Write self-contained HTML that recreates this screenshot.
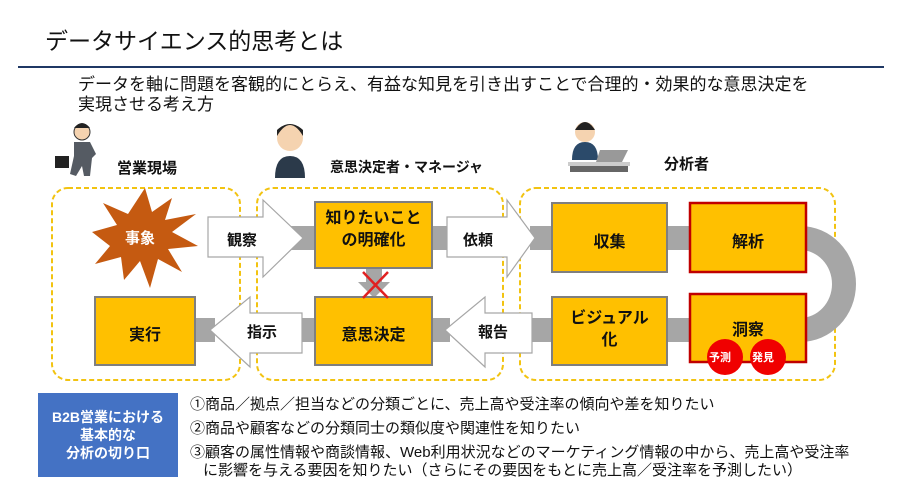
<!DOCTYPE html>
<html><head><meta charset="utf-8"><style>
body{margin:0;width:900px;height:500px;background:#fff;position:relative;overflow:hidden;font-family:"Liberation Sans","Noto Sans CJK JP",sans-serif;color:#111}
.t{position:absolute;white-space:nowrap}
.b{font-weight:bold}
</style></head><body>
<svg width="900" height="500" style="position:absolute;left:0;top:0">
<line x1="18" y1="67" x2="884" y2="67" stroke="#1f3864" stroke-width="2"/>
<g fill="none" stroke="#f2c311" stroke-width="2" stroke-dasharray="5,3">
<rect x="52" y="188" width="188" height="192" rx="16"/>
<rect x="257" y="188" width="246" height="192" rx="16"/>
<rect x="520" y="188" width="315" height="192" rx="16"/>
</g>
<g fill="#a6a6a6">
<rect x="290" y="226" width="30" height="24"/>
<rect x="430" y="226" width="20" height="24"/>
<rect x="530" y="226" width="25" height="24"/>
<rect x="665" y="226" width="28" height="24"/>
<rect x="195" y="318" width="20" height="24"/>
<rect x="300" y="318" width="18" height="24"/>
<rect x="430" y="318" width="20" height="24"/>
<rect x="530" y="318" width="25" height="24"/>
<rect x="665" y="318" width="28" height="24"/>
<polygon points="366,268 382,268 382,282 390,282 374,298 358,282 366,282"/>
</g>
<path d="M800,226 A56,58 0 0 1 800,342 L800,318 A32,34 0 0 0 800,250 Z" fill="#a6a6a6"/>
<g fill="#fff" stroke="#a6a6a6" stroke-width="1.2">
<polygon points="208,217 263,217 263,200 303,238 263,277 263,257 208,257"/>
<polygon points="447,217 507,217 507,200 535,238 507,277 507,257 447,257"/>
<polygon points="302,313 250,313 250,297 210,330 250,367 250,353 302,353"/>
<polygon points="532,313 485,313 485,297 445,330 485,367 485,353 532,353"/>
</g>
<polygon fill="#c55a11" points="145,188 152,212 172,198 165,220 196,214 172,232 198,246 168,249 182,272 158,259 150,288 140,261 124,280 121,257 95,264 110,246 92,232 117,225 103,203 128,214" />
<g fill="#ffc000" stroke="#7f7f7f" stroke-width="2">
<rect x="95" y="297" width="100" height="68"/>
<rect x="315" y="202" width="117" height="66"/>
<rect x="315" y="297" width="117" height="68"/>
<rect x="552" y="203" width="115" height="69"/>
<rect x="552" y="297" width="115" height="68"/>
</g>
<g fill="#ffc000" stroke="#c00000" stroke-width="2.5">
<rect x="690" y="203" width="116" height="69"/>
<rect x="690" y="294" width="116" height="68"/>
</g>
<g stroke="#e02020" stroke-width="2.5"><line x1="363" y1="272" x2="388" y2="298"/><line x1="388" y1="272" x2="363" y2="298"/></g>
<circle cx="725" cy="357" r="18" fill="#f00000"/>
<circle cx="768" cy="357" r="18" fill="#f00000"/>
<g>
<circle cx="82" cy="132" r="8" fill="#f5d3b0" stroke="#333"/><path d="M74,128 q8,-10 16,0" fill="#222"/>
<path d="M74,142 l16,0 l6,12 l-4,4 l-2,18 l-6,0 l-2,-10 l-6,10 l-6,-2 l4,-18 z" fill="#555b63"/>
<rect x="55" y="156" width="14" height="12" fill="#222"/>
<circle cx="290" cy="138" r="13" fill="#f5d3b0"/><path d="M277,136 q13,-22 26,0 l0,-6 q-13,-12 -26,0z" fill="#222"/>
<path d="M275,178 q0,-22 15,-22 q15,0 15,22z" fill="#2b3a4a"/>
<circle cx="585" cy="132" r="10" fill="#f5d3b0"/><path d="M575,130 q10,-16 20,0z" fill="#222"/>
<path d="M572,160 q0,-18 13,-18 q13,0 13,18z" fill="#2b4a6a"/>
<polygon points="600,150 628,150 622,162 596,162" fill="#999"/>
<rect x="568" y="162" width="62" height="4" fill="#ccc"/><rect x="570" y="166" width="58" height="6" fill="#666"/>
</g>
</svg>
<div class="t" style="left:45px;top:22px;font-size:23px">データサイエンス的思考とは</div>
<div class="t" style="left:78px;top:75px;font-size:17px;line-height:20px">データを軸に問題を客観的にとらえ、有益な知見を引き出すことで合理的・効果的な意思決定を<br>実現させる考え方</div>
<div class="t b" style="left:117px;top:157px;font-size:15px">営業現場</div>
<div class="t b" style="left:330px;top:157px;font-size:14px">意思決定者・マネージャ</div>
<div class="t b" style="left:664px;top:153px;font-size:15px">分析者</div>
<div class="t b" style="left:125px;top:227px;font-size:15px;color:#fff">事象</div>
<div class="t b" style="left:227px;top:229px;font-size:15px">観察</div>
<div class="t b" style="left:315px;top:208px;width:117px;text-align:center;font-size:16px;line-height:22px">知りたいこと<br>の明確化</div>
<div class="t b" style="left:463px;top:229px;font-size:15px">依頼</div>
<div class="t b" style="left:552px;top:228px;width:115px;text-align:center;font-size:16px">収集</div>
<div class="t b" style="left:690px;top:228px;width:116px;text-align:center;font-size:16px">解析</div>
<div class="t b" style="left:95px;top:321px;width:100px;text-align:center;font-size:16px">実行</div>
<div class="t b" style="left:247px;top:321px;font-size:15px">指示</div>
<div class="t b" style="left:315px;top:321px;width:117px;text-align:center;font-size:16px">意思決定</div>
<div class="t b" style="left:478px;top:321px;font-size:15px">報告</div>
<div class="t b" style="left:552px;top:308px;width:115px;text-align:center;font-size:16px;line-height:22px">ビジュアル<br>化</div>
<div class="t b" style="left:690px;top:316px;width:116px;text-align:center;font-size:16px">洞察</div>
<div class="t b" style="left:709px;top:349px;font-size:11px;color:#fff">予測</div>
<div class="t b" style="left:752px;top:349px;font-size:11px;color:#fff">発見</div>
<div class="t b" style="left:38px;top:393px;width:140px;height:84px;background:#4472c4;color:#fff;font-size:14px;line-height:18px;text-align:center;padding-top:15px;box-sizing:border-box">B2B営業における<br>基本的な<br>分析の切り口</div>
<div class="t" style="left:190px;top:393px;font-size:15px;line-height:24px">①商品／拠点／担当などの分類ごとに、売上高や受注率の傾向や差を知りたい<br>②商品や顧客などの分類同士の類似度や関連性を知りたい<br>③顧客の属性情報や商談情報、Web利用状況などのマーケティング情報の中から、売上高や受注率</div>
<div class="t" style="left:203px;top:459px;font-size:15px">に影響を与える要因を知りたい（さらにその要因をもとに売上高／受注率を予測したい）</div>
</body></html>
